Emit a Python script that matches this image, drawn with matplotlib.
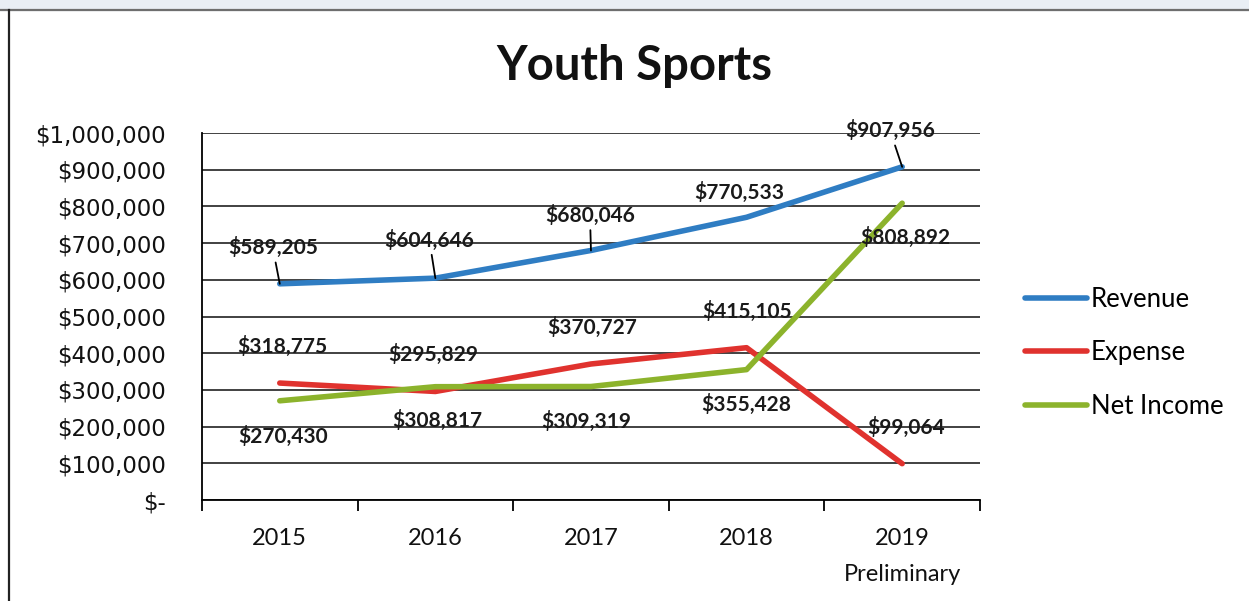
import matplotlib.pyplot as plt
from matplotlib.lines import Line2D
from matplotlib.patches import Rectangle

# dados
anos = ['2015', '2016', '2017', '2018', '2019\nPreliminary']
receita = [589205, 604646, 680046, 770533, 907956]
despesa = [318775, 295829, 370727, 415105, 99064]
lucro = [270430, 308817, 309319, 355428, 808892]

nomes = ['Revenue', 'Expense', 'Net Income']
cores = ['#2f7dc3', '#e0322e', '#8cb32c']

# deslocamento dos rótulos (pixels) e se tem linha guia
desl = [
    [(-7, 36), (-6, 38), (-1, 35), (-7, 25), (-12, 36)],
    [(3, 37), (-2, 37), (1, 37), (0, 36), (4, 36)],
    [(3, -36), (2, -34), (-5, -35), (0, -35), (3, -34)],
]
guia = [
    [True, True, True, False, True],
    [False] * 5,
    [False] * 5,
]

plt.rcParams['font.family'] = ['Lato', 'DejaVu Sans']

fig = plt.figure(figsize=(12.49, 6.01), dpi=100)
# faixa azulada no topo e moldura
fig.patches.append(Rectangle((0, 0.983), 1, 0.017, transform=fig.transFigure,
                             color='#e9eef4', zorder=0))
fig.lines.append(Line2D([0, 1], [0.983, 0.983], transform=fig.transFigure,
                        color='#6e6e6e', lw=1.6))
fig.lines.append(Line2D([0.0075, 0.0075], [0, 0.983], transform=fig.transFigure,
                        color='#222222', lw=1.6))

ax = fig.add_axes([0.1617, 0.168, 0.6229, 0.6106])
x = range(len(anos))
series = [receita, despesa, lucro]
for i, serie in enumerate(series):
    ax.plot(x, serie, color=cores[i], lw=4, label=nomes[i], zorder=3,
            solid_capstyle='round', solid_joinstyle='round')
    for j, v in enumerate(serie):
        props = None
        if guia[i][j]:
            props = dict(arrowstyle='-', color='black', lw=1.3, shrinkA=1, shrinkB=0)
        ax.annotate('${:,}'.format(v), (j, v), xytext=desl[i][j],
                    textcoords='offset pixels', ha='center', va='center',
                    fontsize=15, fontweight='bold', color='#1a1a1a',
                    arrowprops=props, zorder=4)

ax.set_xlim(-0.5, 4.5)
ax.set_ylim(0, 1000000)
ax.set_yticks(range(0, 1000001, 100000))
ax.set_yticklabels(['$-'] + ['${:,}'.format(v) for v in range(100000, 1000001, 100000)],
                   family='DejaVu Sans', fontsize=16.5, color='#111111')
ax.set_xticks(list(x))
ax.set_xticklabels(anos, fontsize=17, linespacing=1.9, color='#111111')
ax.set_xticks([k - 0.5 for k in range(6)], minor=True)
ax.tick_params(axis='x', which='major', length=0, pad=20)
ax.tick_params(axis='x', which='minor', length=8, width=1.3, direction='out')
ax.tick_params(axis='y', length=0, pad=26)
ax.grid(axis='y', color='#333333', lw=1.3)
ax.set_axisbelow(True)
for lado in ['top', 'right']:
    ax.spines[lado].set_visible(False)
ax.spines['left'].set_linewidth(1.3)
ax.spines['bottom'].set_linewidth(1.3)

fig.text(0.508, 0.89, 'Youth Sports', ha='center', va='center',
         fontsize=34, fontweight='bold', color='#111111')

leg = fig.legend(loc='center left', bbox_to_anchor=(0.8207, 0.413), frameon=False,
                 fontsize=18.5, handlelength=2.4, handletextpad=0.15,
                 labelspacing=1.12, borderpad=0, borderaxespad=0)

fig.savefig('out.png', dpi=100)
